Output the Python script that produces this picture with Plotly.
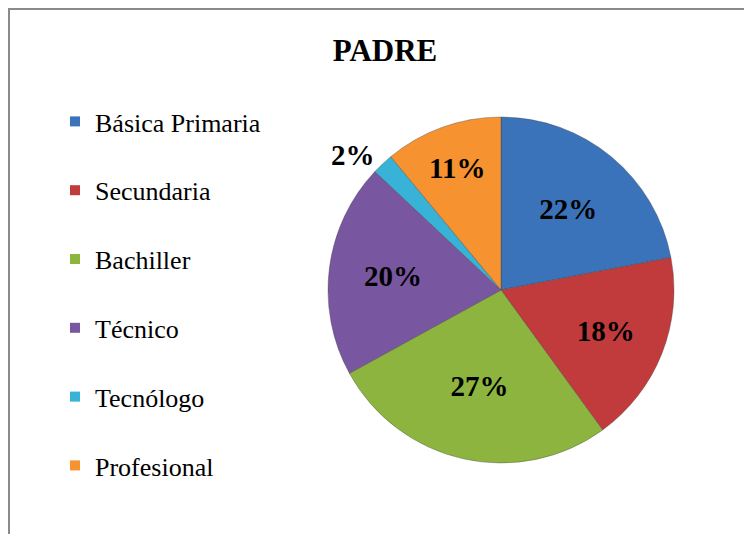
import plotly.graph_objects as go

categories = ["Básica Primaria", "Secundaria", "Bachiller", "Técnico", "Tecnólogo", "Profesional"]
values = [22, 18, 27, 20, 2, 11]
colors = ["#3A73B9", "#C23B3C", "#8DB43F", "#7856A0", "#38B2D6", "#F6922F"]
label_positions = ["inside", "inside", "inside", "inside", "outside", "inside"]

# page body has an 8px margin; figure coordinates are screen coordinates minus 8
OFF = 8
W, H = 752 - OFF, 534 - OFF
serif = "Liberation Serif, Times New Roman, serif"

cx, cy, r = 501 - OFF, 290 - OFF, 173

fig = go.Figure()

fig.add_trace(go.Pie(
    labels=categories,
    values=values,
    sort=False,
    direction="clockwise",
    rotation=0,
    marker=dict(colors=colors, line=dict(color="rgba(60,60,60,0.35)", width=1)),
    texttemplate="%{percent:.0%}",
    textposition=label_positions,
    insidetextorientation="horizontal",
    textfont=dict(family=serif, size=29, color="black", weight="bold"),
    showlegend=False,
    domain=dict(x=[(cx - r) / W, (cx + r) / W], y=[(H - cy - r) / H, (H - cy + r) / H]),
    hoverinfo="label+percent",
))

for name, col in zip(categories, colors):
    fig.add_trace(go.Scatter(
        x=[None], y=[None], mode="markers", name=name, legendgroup=name,
        marker=dict(symbol="square", size=10, color=col, line=dict(width=0)),
        showlegend=True,
    ))

fig.update_layout(
    width=W, height=H,
    margin=dict(l=0, r=0, t=0, b=0),
    paper_bgcolor="white", plot_bgcolor="white",
    xaxis=dict(visible=False), yaxis=dict(visible=False),
    title=dict(text="<b>PADRE</b>", x=(385 - OFF) / W, xanchor="center", y=1 - (50 - OFF) / H, yanchor="middle",
               font=dict(family=serif, size=31, color="black")),
    legend=dict(x=(55 - OFF) / W, xanchor="left", y=1 - (98 - OFF) / H, yanchor="top",
                font=dict(family=serif, size=26, color="black"),
                tracegroupgap=32, bgcolor="rgba(0,0,0,0)", itemclick=False),
    shapes=[dict(type="rect", xref="paper", yref="paper",
                 x0=1 / W, x1=1.05, y0=-0.05, y1=1 - 1 / H,
                 line=dict(color="#8A8A8A", width=2))],
)

fig.write_html("out.html")
